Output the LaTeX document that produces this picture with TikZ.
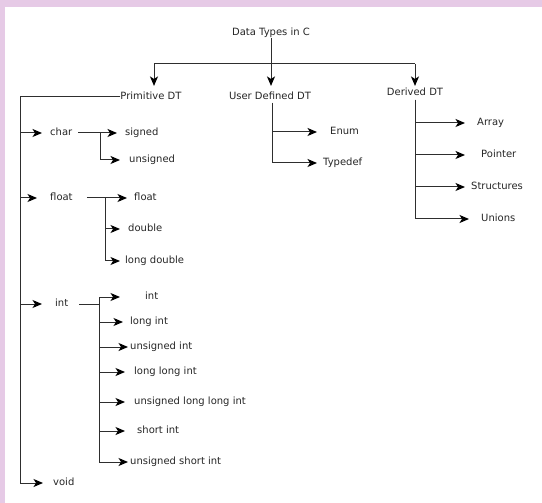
\documentclass[tikz,border=0pt]{standalone}
\usepackage{fontspec}
\setmainfont{DejaVu Sans}
\usetikzlibrary{arrows.meta}
\definecolor{bordpink}{RGB}{230,202,230}
\begin{document}
\begin{tikzpicture}[x=1pt,y=-1pt,
  lbl/.style={inner sep=0pt,anchor=mid west,font=\fontsize{10}{12}\selectfont,text=black!85},
  hd/.style={lbl,anchor=mid},
  ln/.style={line width=1pt,draw=black!82},
  arr/.style={ln,-{Stealth[length=9.5pt,width=8pt,inset=2.5pt,color=black]}}]
\fill[bordpink] (0,0) rectangle (542,503);
\fill[white] (5,7) rectangle (542,503);
\useasboundingbox (0,0) rectangle (542,503);
% headings
\node[hd] (title) at (271,33) {Data Types in C};
\node[hd] (prim) at (151,97) {Primitive DT};
\node[hd] (user) at (270,97) {User Defined DT};
\node[hd] (der) at (415,93) {Derived DT};
% primitive
\node[lbl] (char) at (50,133) {char};
\node[lbl] (signed) at (125,133) {signed};
\node[lbl] (unsigned) at (129,160) {unsigned};
\node[lbl] (floatA) at (50,198) {float};
\node[lbl] (floatB) at (134,198) {float};
\node[lbl] (double) at (128,229) {double};
\node[lbl] (ldouble) at (125,261) {long double};
\node[lbl] (intA) at (55,304) {int};
\node[lbl] (intB) at (145,297) {int};
\node[lbl] (longint) at (130,322) {long int};
\node[lbl] (uint) at (130,347) {unsigned int};
\node[lbl] (llint) at (134,372) {long long int};
\node[lbl] (ullint) at (134,402) {unsigned long long int};
\node[lbl] (sint) at (137,431) {short int};
\node[lbl] (usint) at (130,462) {unsigned short int};
\node[lbl] (void) at (53,483) {void};
% user defined
\node[lbl] (enum) at (330,132) {Enum};
\node[lbl] (typedef) at (323,163) {Typedef};
% derived
\node[lbl] (array) at (477,123) {Array};
\node[lbl] (pointer) at (481,155) {Pointer};
\node[lbl] (struct) at (471,187) {Structures};
\node[lbl] (unions) at (481,219) {Unions};
% coordinates
\coordinate (j) at (271,64);
\coordinate (jl) at (154,64);
\coordinate (jr) at (415,64);
\coordinate (L0) at (20,98);
\coordinate (cb) at (100,133);
\coordinate (fb) at (105,198);
\coordinate (ib) at (99,304);
\coordinate (ut) at (272,103);
\coordinate (dt) at (415,100);
% top level
\draw[ln] (j |- title.south) -- (j);
\draw[ln] (jl) -- (jr);
\draw[arr,shorten >=6pt] (jl) -- (jl |- prim.north);
\draw[arr,shorten >=6pt] (j) -- (j |- user.north);
\draw[arr,shorten >=2pt] (jr) -- (jr |- der.north);
% primitive trunk
\draw[arr] (prim.mid west) -- (prim.mid west -| L0) |- ([xshift=-10pt]void.mid west);
\draw[arr] (L0 |- char.mid west) -- ([xshift=-8pt]char.mid west);
\draw[arr] (L0 |- floatA.mid west) -- ([xshift=-13pt]floatA.mid west);
\draw[arr] (L0 |- intA.mid west) -- ([xshift=-13pt]intA.mid west);
% char
\draw[arr] ([xshift=6pt]char.mid east) -- ([xshift=-8pt]signed.mid west);
\draw[arr] (cb) |- ([xshift=-9pt]unsigned.mid west);
% float
\draw[arr] ([xshift=14pt]floatA.mid east) -- ([xshift=-7pt]floatB.mid west);
\draw[arr] (fb) |- ([xshift=-8pt]double.mid west);
\draw[arr] (fb) |- ([xshift=-5pt]ldouble.mid west);
% int
\draw[ln] ([xshift=11pt]intA.mid east) -- (ib);
\draw[arr] (ib) |- ([xshift=-25pt]intB.mid west);
\draw[arr] (ib) |- ([xshift=-7pt]longint.mid west);
\draw[arr] (ib) |- ([xshift=-2pt]uint.mid west);
\draw[arr] (ib) |- ([xshift=-9pt]llint.mid west);
\draw[arr] (ib) |- ([xshift=-9pt]ullint.mid west);
\draw[arr] (ib) |- ([xshift=-12pt]sint.mid west);
\draw[arr] (ib) |- ([xshift=-2pt]usint.mid west);
% user defined
\draw[arr] (ut) |- ([xshift=-13pt]enum.mid west);
\draw[arr] (ut) |- ([xshift=-6pt]typedef.mid west);
% derived
\draw[arr] (dt) |- ([xshift=-12pt]array.mid west);
\draw[arr] (dt) |- ([xshift=-16pt]pointer.mid west);
\draw[arr] (dt) |- ([xshift=-6pt]struct.mid west);
\draw[arr] (dt) |- ([xshift=-12pt]unions.mid west);
\end{tikzpicture}
\end{document}
